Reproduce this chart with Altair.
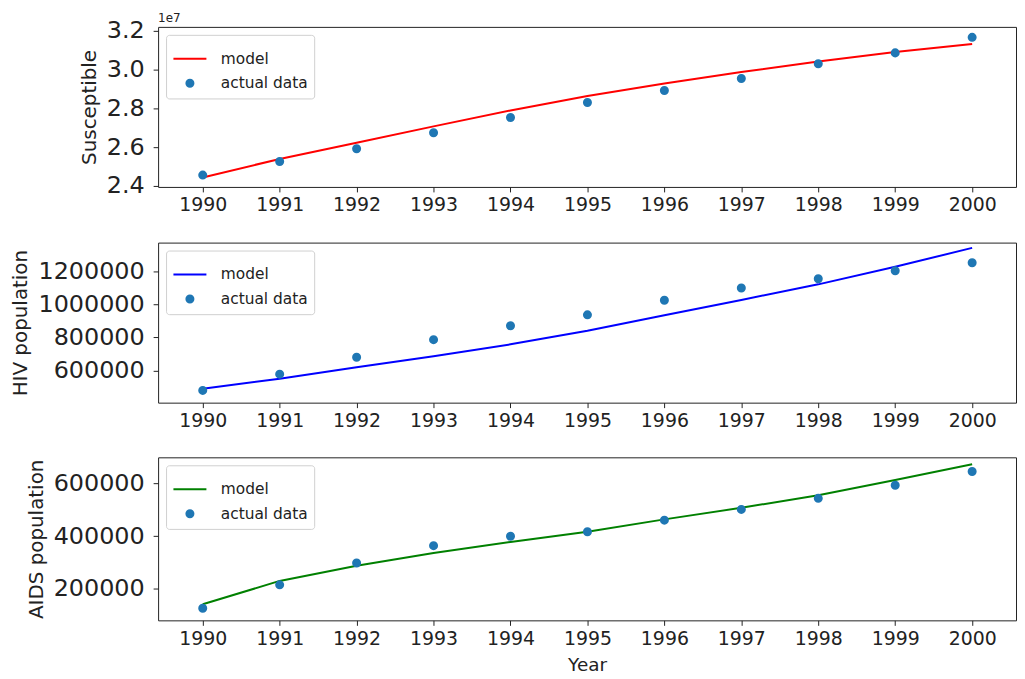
import altair as alt
import pandas as pd

years = list(range(1990, 2001))
series_names = ["model", "actual data"]

sus_actual = [24.56e6, 25.26e6, 25.92e6, 26.74e6, 27.53e6, 28.30e6, 28.92e6, 29.54e6, 30.30e6, 30.86e6, 31.66e6]
sus_model = [24.44e6, 25.39e6, 26.23e6, 27.07e6, 27.89e6, 28.64e6, 29.28e6, 29.87e6, 30.42e6, 30.90e6, 31.32e6]
hiv_actual = [480000, 578000, 680000, 786000, 870000, 936000, 1024000, 1098000, 1154000, 1202000, 1250000]
hiv_model = [490000, 550000, 620000, 686000, 758000, 840000, 934000, 1026000, 1120000, 1226000, 1340000]
aids_actual = [126000, 215000, 298000, 364000, 400000, 417000, 461000, 502000, 544000, 594000, 646000]
aids_model = [141000, 230000, 288000, 336000, 378000, 417000, 464000, 508000, 556000, 614000, 674000]

sus_ticks = [2.4e7, 2.6e7, 2.8e7, 3.0e7, 3.2e7]
hiv_ticks = [600000, 800000, 1000000, 1200000]
aids_ticks = [200000, 400000, 600000]

FONT = "DejaVu Sans"
W = 863

IND = dict(stroke="independent", fill="independent", shape="independent", size="independent")


def panel(model, actual, line_color, ytitle, ydomain, yticks, label_expr, xtitle, height, title=None):
    df_m = pd.DataFrame({"year": years, "value": model, "series": series_names[0]})
    df_a = pd.DataFrame({"year": years, "value": actual, "series": series_names[1]})
    cols = [line_color, "#1f77b4"]
    leg = alt.Legend(title=None, orient="top-left")
    if xtitle:
        xaxis = alt.Axis(values=years, format="d", labelFontSize=19, labelPadding=4,
                         title=xtitle, titleFontSize=18.5, titleFontWeight="normal", titlePadding=7)
    else:
        xaxis = alt.Axis(values=years, format="d", labelFontSize=19, labelPadding=4, title=None)
    x = alt.X("year:Q", scale=alt.Scale(domain=[1989.42, 2000.57], nice=False, zero=False), axis=xaxis)
    y = alt.Y("value:Q", scale=alt.Scale(domain=ydomain, nice=False, zero=False),
              axis=alt.Axis(values=yticks, labelExpr=label_expr, title=ytitle, labelFontSize=24,
                            titleFontSize=20, titleFontWeight="normal", labelPadding=9, titlePadding=7))
    line = alt.Chart(df_m).mark_line(strokeWidth=2).encode(
        x=x, y=y,
        stroke=alt.Stroke("series:N", scale=alt.Scale(domain=series_names, range=cols), legend=leg),
    )
    pts = alt.Chart(df_a).mark_point(filled=True, opacity=1, strokeWidth=2).encode(
        x=x, y=y,
        stroke=alt.Stroke("series:N", scale=alt.Scale(domain=series_names, range=cols), legend=leg),
        fill=alt.Fill("series:N", scale=alt.Scale(domain=series_names, range=cols), legend=leg),
        shape=alt.Shape("series:N", scale=alt.Scale(domain=series_names, range=["stroke", "circle"]), legend=leg),
        size=alt.Size("series:N", scale=alt.Scale(domain=series_names, range=[1100, 50]), legend=leg),
    )
    ch = alt.layer(line, pts).properties(width=W, height=height)
    if title:
        ch = ch.properties(title=alt.TitleParams(title, anchor="start", fontSize=12, fontWeight="normal",
                                                 font=FONT, color="#222", offset=-6, frame="group"))
    return ch


p1 = panel(sus_model, sus_actual, "#ff0000", "Susceptible", [2.395e7, 3.22e7], sus_ticks,
           "format(datum.value/1e7, '.1f')", None, 161, "1e7")
p2 = panel(hiv_model, hiv_actual, "#0000ff", "HIV population", [406000, 1372000], hiv_ticks,
           "format(datum.value, 'd')", None, 161)
p3 = panel(aids_model, aids_actual, "#008000", "AIDS population", [80000, 700000], aids_ticks,
           "format(datum.value, 'd')", "Year", 164)

top = alt.vconcat(p1, p2, spacing=26).resolve_scale(x="independent", y="independent", **IND).resolve_legend(**IND)

chart = alt.vconcat(top, p3, spacing=25).resolve_scale(
    x="independent", y="independent", **IND
).resolve_legend(**IND).properties(
    padding={"left": 2, "top": 1, "right": 0, "bottom": 2}
).configure_view(stroke="#222", strokeWidth=1).configure_axis(
    labelFont=FONT, titleFont=FONT, labelColor="#222", titleColor="#222", tickColor="#222",
    tickSize=5, grid=False, domain=False
).configure_legend(
    labelFont=FONT, labelFontSize=15.5, labelColor="#222", fillColor="rgba(255,255,255,0.8)",
    strokeColor="#d0d0d0", cornerRadius=3, padding=6, offset=8, rowPadding=8, labelOffset=13,
    symbolStrokeWidth=2
)

chart.save("out.html", embed_options={"renderer": "svg", "actions": False})
